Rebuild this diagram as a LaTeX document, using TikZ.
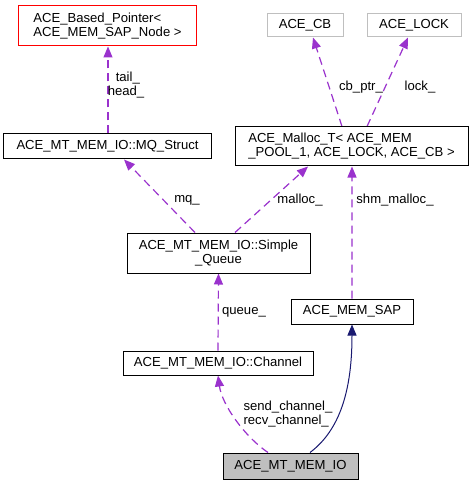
\documentclass[tikz,border=0pt]{standalone}
\usepackage{fontspec}
\setmainfont{Liberation Sans}
\usetikzlibrary{arrows.meta}
\definecolor{dorchid}{HTML}{9A32CD}
\definecolor{mblue}{HTML}{191970}
\definecolor{gbox}{HTML}{BFBFBF}
\pgfdeclarelayer{edges}
\pgfsetlayers{edges,main}
\begin{document}
\begin{tikzpicture}[x=1bp,y=-1bp,
  font=\fontsize{13.1bp}{14bp}\selectfont,
  box/.style={draw=black,line width=1bp,inner sep=0pt,minimum width=#1},
  dep/.style={draw=dorchid,line width=1.2bp,dash pattern=on 8bp off 5bp,-{Triangle[length=11bp,width=9bp,fill=dorchid,sep=0pt]}},
  inh/.style={draw=mblue,line width=1bp,-{Triangle[length=11bp,width=9bp,fill=mblue]}},
  lbl/.style={inner sep=0pt,align=center,text=black},
]
\useasboundingbox (0,0) rectangle (473,485);

\node[box=177bp,minimum height=40bp,draw=red,align=left] (bp) at (107.5,26) {ACE\_Based\_Pointer<\\ ACE\_MEM\_SAP\_Node >};
\node[box=207bp,minimum height=25bp] (mq) at (107.5,146.5) {ACE\_MT\_MEM\_IO::MQ\_Struct};
\node[box=76bp,minimum height=23bp,draw=gbox] (cb) at (305,25.5) {ACE\_CB};
\node[box=94bp,minimum height=23bp,draw=gbox] (lock) at (414,25.5) {ACE\_LOCK};
\node[box=233bp,minimum height=39bp,align=left] (malloc) at (351.5,146.5) {ACE\_Malloc\_T< ACE\_MEM\\\_POOL\_1, ACE\_LOCK, ACE\_CB >};
\node[box=183bp,minimum height=40bp,align=center] (sq) at (218.5,253) {ACE\_MT\_MEM\_IO::Simple\\\_Queue};
\node[box=122bp,minimum height=25bp] (sap) at (352,311.5) {ACE\_MEM\_SAP};
\node[box=190bp,minimum height=24bp] (ch) at (218,363) {ACE\_MT\_MEM\_IO::Channel};
\node[box=135bp,minimum height=26bp,fill=gbox] (io) at (290.5,466) {ACE\_MT\_MEM\_IO};

\node[lbl] (l1) at (126,85.5) {\ tail\_\\head\_};
\node[lbl] (l2) at (361,87) {cb\_ptr\_};
\node[lbl] (l3) at (420,87) {lock\_};
\node[lbl] (l4) at (187,200) {mq\_};
\node[lbl] (l5) at (300,200) {malloc\_};
\node[lbl] (l6) at (395,200) {shm\_malloc\_};
\node[lbl] (l7) at (244,312) {queue\_};
\node[lbl,align=left] (l8) at (288,414) {send\_channel\_\\recv\_channel\_};

\begin{pgfonlayer}{edges}
\fill[white] (0,0) rectangle (473,485);
\draw[dep] ([xshift=-23.5bp]sq.north) -- ([xshift=16.5bp]mq.south);
\draw[dep] ([xshift=-9.5bp]malloc.north) -- ([xshift=8bp]cb.south);
\draw[dep] ([xshift=15.5bp]malloc.north) -- ([xshift=-6bp]lock.south);
\draw[dep] ([xshift=16.5bp]sq.north) -- ([xshift=-43.5bp]malloc.south);
\draw[dep] (sap.north) -- ([xshift=0.5bp]malloc.south);
\draw[dep] (ch.north) -- (sq.south);
\draw[dep] ([xshift=0.5bp]mq.north) -- ([xshift=0.5bp]bp.south);
\draw[dep] ([xshift=-22.5bp]io.north) .. controls (245,437) and (222,405) .. (ch.south);
\draw[inh] ([xshift=19.5bp]io.north) .. controls (340,430) and (352,390) .. (sap.south);
\end{pgfonlayer}
\end{tikzpicture}
\end{document}
